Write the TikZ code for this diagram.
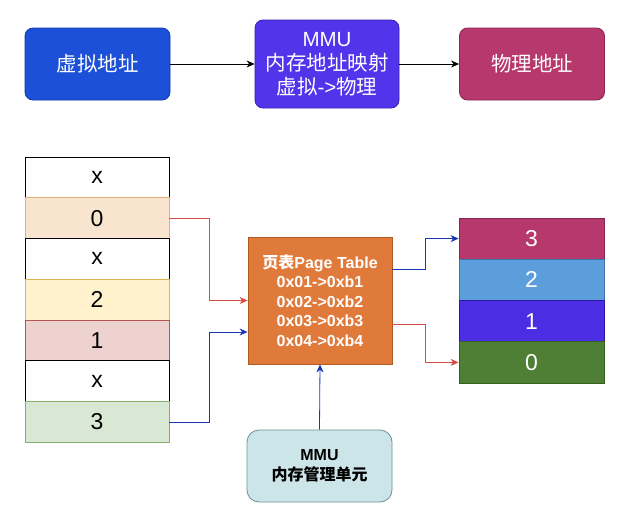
\documentclass[tikz,border=0pt]{standalone}
\usepackage{fontspec}
\setmainfont{Liberation Sans}
\newfontfamily\cjk{Noto Sans CJK SC}
\usetikzlibrary{arrows.meta}
\newcommand\zhtext[1]{{\cjk #1}}
\definecolor{vablue}{HTML}{1C50D8}
\definecolor{vablueb}{HTML}{1238A6}
\definecolor{mmupurple}{HTML}{5234EA}
\definecolor{mmupurpleb}{HTML}{3A1FB8}
\definecolor{pamag}{HTML}{B6386C}
\definecolor{pamagb}{HTML}{8A2450}
\definecolor{ptorange}{HTML}{E07A3B}
\definecolor{ptorangeb}{HTML}{B05A20}
\definecolor{mmuteal}{HTML}{CBE5E9}
\definecolor{mmutealb}{HTML}{6E9196}
\definecolor{rblue}{HTML}{5C9EDB}
\definecolor{rblueb}{HTML}{3C74AE}
\definecolor{rpurple}{HTML}{4B2EE3}
\definecolor{rpurpleb}{HTML}{2E1AA0}
\definecolor{rgreen}{HTML}{4E7F34}
\definecolor{rgreenb}{HTML}{35601F}
\definecolor{lpeach}{HTML}{F9E4CF}
\definecolor{lpeachb}{HTML}{E0B07A}
\definecolor{lyellow}{HTML}{FFF2CC}
\definecolor{lyellowb}{HTML}{D6B656}
\definecolor{lpink}{HTML}{EDD2D0}
\definecolor{lpinkb}{HTML}{B85450}
\definecolor{lgreen}{HTML}{D8E8D5}
\definecolor{lgreenb}{HTML}{82B366}
\definecolor{arrred}{HTML}{D64B45}
\definecolor{arrblue}{HTML}{1A36B8}
\begin{document}
\begin{tikzpicture}[x=1pt,y=-1pt,
  topbox/.style={rounded corners=8pt, draw, line width=0.8pt, minimum width=145pt, minimum height=72pt, text=white, font=\fontsize{20.5}{24}\selectfont, align=center, inner sep=0pt},
  cell/.style={draw, line width=0.8pt, minimum width=144pt, minimum height=40.75pt, font=\fontsize{23}{26}\selectfont, inner sep=0pt},
  rcell/.style={draw, line width=0.8pt, minimum width=145pt, minimum height=41.25pt, font=\fontsize{23}{26}\selectfont, inner sep=0pt, text=white},
  arr/.style={-{Stealth[length=8pt,width=7pt,inset=2.5pt]}, line width=0.8pt}
]
\useasboundingbox (0,0) rectangle (622,509);
\fill[white] (0,0) rectangle (622,509);

% top row
\node[topbox, fill=vablue, draw=vablueb] (va) at (97.5,64) {\zhtext{虚拟地址}};
\node[topbox, fill=mmupurple, draw=mmupurpleb, minimum width=144pt, minimum height=88pt] (mmua) at (327,64) {MMU\\\zhtext{内存地址映射}\\\zhtext{虚拟}->\zhtext{物理}};
\node[topbox, fill=pamag, draw=pamagb] (pa) at (532,64) {\zhtext{物理地址}};
\draw[arr, black] (va.east) -- (mmua.west);
\draw[arr, black] (mmua.east) -- (pa.west);

% left column
\node[cell, fill=white, draw=black] (l0) at (97,177.4) {x};
\node[cell, fill=lpeach, draw=lpeachb] (l1) at (97,218.1) {0};
\node[cell, fill=white, draw=black] (l2) at (97,258.9) {x};
\node[cell, fill=lyellow, draw=lyellowb] (l3) at (97,299.6) {2};
\node[cell, fill=lpink, draw=lpinkb] (l4) at (97,340.4) {1};
\node[cell, fill=white, draw=black] (l5) at (97,381.1) {x};
\node[cell, fill=lgreen, draw=lgreenb] (l6) at (97,421.9) {3};

% page table
\node[draw=ptorangeb, fill=ptorange, line width=0.8pt, minimum width=144pt, minimum height=127pt, inner sep=0pt, text=white, align=center, font=\bfseries\fontsize{16}{19.5}\selectfont] (pt) at (320,300.5) {\zhtext{页表}Page Table\\0x01->0xb1\\0x02->0xb2\\0x03->0xb3\\0x04->0xb4};

% right column
\node[rcell, fill=pamag, draw=pamagb] (r0) at (531.5,238.6) {3};
\node[rcell, fill=rblue, draw=rblueb] (r1) at (531.5,279.9) {2};
\node[rcell, fill=rpurple, draw=rpurpleb] (r2) at (531.5,321.1) {1};
\node[rcell, fill=rgreen, draw=rgreenb] (r3) at (531.5,362.4) {0};

% MMU bottom
\node[draw=mmutealb, fill=mmuteal, line width=0.8pt, rounded corners=12pt, minimum width=145pt, minimum height=72pt, inner sep=0pt, align=center, font=\bfseries\fontsize{16}{19.5}\selectfont] (mmub) at (319.5,466) {MMU\\\zhtext{内存管理单元}};

% connectors
\draw[arr, arrred] (l1.east) -- ++(39.5,0) |- (pt.west);
\draw[arr, arrblue] (l6.east) -- ++(39.5,0) |- ([yshift=-31.5pt]pt.west);
\draw[arr, arrblue] ([yshift=31.5pt]pt.east) -- ++(33,0) |- (r0.west);
\draw[arr, arrred] ([yshift=-23.5pt]pt.east) -- ++(33,0) |- (r3.west);
\draw[arr, arrblue] (mmub.north) -- (pt.south);
\end{tikzpicture}
\end{document}
